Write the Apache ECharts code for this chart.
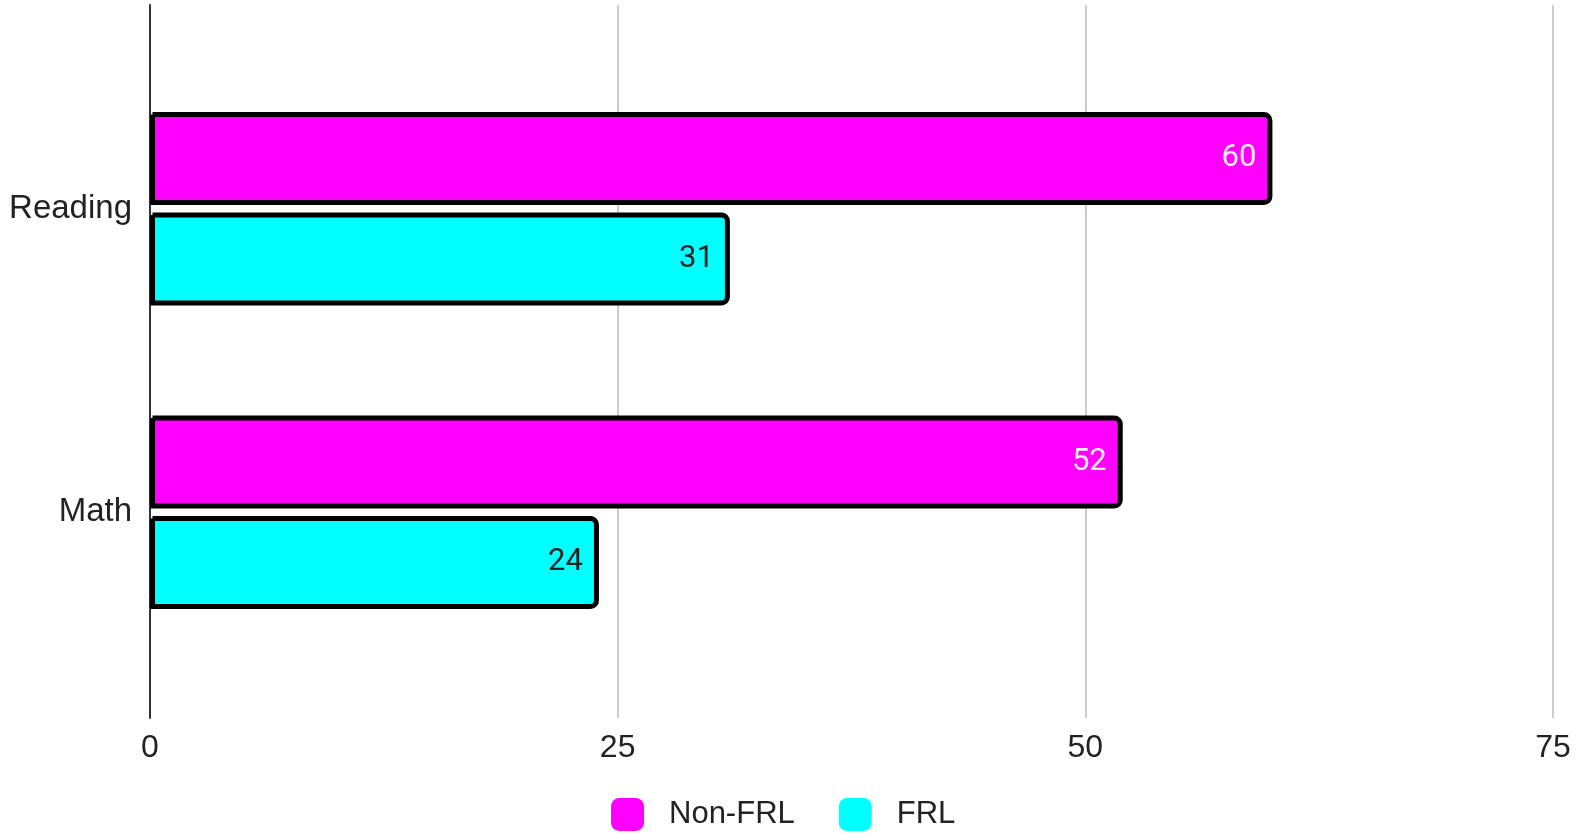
<!DOCTYPE html>
<html>
<head>
<meta charset="utf-8">
<style>
  html, body { margin: 0; padding: 0; background: #fff; }
  #chart { width: 1579px; height: 834px; }
</style>
<script src="https://cdn.jsdelivr.net/npm/echarts@6/dist/echarts.min.js"></script>
</head>
<body>
<div id="chart"></div>
<script>
// 数据
const categories = ['Reading', 'Math']
const nonFrl = [60, 52]
const frl = [31, 24]
const xTicks = [0, 25, 50, 75]

const axisFont = '"Liberation Sans", Arial, sans-serif'
const labelFont = 'Roboto, "Noto Sans", sans-serif'

const barStyle = (color) => ({
  color: color,
  borderColor: '#000',
  borderWidth: 5,
  borderRadius: [0, 6, 6, 0]
})

const chart = echarts.init(document.getElementById('chart'))

chart.setOption({
  animation: false,
  legend: {
    data: ['Non-FRL', 'FRL'],
    bottom: -2,
    left: 606,
    icon: 'roundRect',
    itemWidth: 33,
    itemHeight: 33,
    itemGap: 44,
    itemStyle: { borderWidth: 0 },
    textStyle: { fontSize: 31, color: '#222', fontFamily: axisFont, padding: [0, 0, 0, 20] }
  },
  grid: [
    // 坐标轴和网格线
    { left: 150, right: 26, top: 5, bottom: 116 },
    // 柱子
    { left: 150, right: 26, top: 57, bottom: 170 }
  ],
  xAxis: [
    {
      gridIndex: 0,
      type: 'value',
      min: xTicks[0],
      max: xTicks[xTicks.length - 1],
      interval: 25,
      axisLine: { show: false },
      axisTick: { show: false },
      splitLine: { lineStyle: { color: '#cccccc', width: 2 } },
      axisLabel: { fontSize: 32, color: '#222', fontFamily: axisFont, margin: 14 }
    },
    {
      gridIndex: 1,
      type: 'value',
      min: xTicks[0],
      max: xTicks[xTicks.length - 1],
      show: false
    }
  ],
  yAxis: [
    {
      gridIndex: 0,
      type: 'value',
      axisLine: { show: true, lineStyle: { color: '#333', width: 2 } },
      axisTick: { show: false },
      axisLabel: { show: false },
      splitLine: { show: false }
    },
    {
      gridIndex: 1,
      type: 'category',
      data: categories,
      inverse: true,
      axisLine: { show: false },
      axisTick: { show: false },
      axisLabel: { fontSize: 33, color: '#222', fontFamily: axisFont, margin: 18 }
    }
  ],
  series: [
    {
      name: 'Non-FRL',
      type: 'bar',
      xAxisIndex: 1,
      yAxisIndex: 1,
      data: nonFrl,
      barWidth: 93,
      barGap: '8%',
      itemStyle: barStyle('#ff00ff'),
      label: {
        show: true,
        position: 'insideRight',
        distance: 16,
        color: '#fff0fa',
        fontSize: 31,
        fontFamily: labelFont
      }
    },
    {
      name: 'FRL',
      type: 'bar',
      xAxisIndex: 1,
      yAxisIndex: 1,
      data: frl,
      barWidth: 93,
      itemStyle: barStyle('#00ffff'),
      label: {
        show: true,
        position: 'insideRight',
        distance: 16,
        color: '#222',
        fontSize: 31,
        fontFamily: labelFont
      }
    }
  ]
})

window.addEventListener('resize', () => chart.resize())
</script>
</body>
</html>
